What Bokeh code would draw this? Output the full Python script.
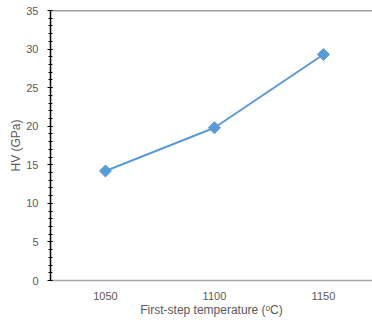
from bokeh.plotting import figure
from bokeh.models import Span, FixedTicker, Range1d
from bokeh.embed import file_html
from bokeh.resources import INLINE
import math

temps = [1050, 1100, 1150]
hv = [14.2, 19.8, 29.3]
y_ticks = [0, 5, 10, 15, 20, 25, 30, 35]

p = figure(width=372, height=320, output_backend="svg", toolbar_location=None,
           x_range=Range1d(1024.8, 1172.5), y_range=Range1d(0, 35),
           min_border_left=50, min_border_right=0, min_border_top=10, min_border_bottom=40)
p.outline_line_color = None
p.xgrid.grid_line_color = None
p.ygrid.grid_line_color = None
p.background_fill_color = "white"
p.border_fill_color = "white"

p.line(temps, hv, line_color="#5b9bd5", line_width=2)
p.scatter(temps, hv, marker="square", size=8.5, angle=math.pi / 4,
          fill_color="#5b9bd5", line_color="#5b9bd5")

p.add_layout(Span(location=35, dimension="width", line_color="#404040", line_width=1.5))

font = "Liberation Sans"
ya = p.yaxis[0]
ya.ticker = FixedTicker(ticks=y_ticks, minor_ticks=list(range(0, 36)))
ya.axis_line_color = "black"
ya.axis_line_width = 1.5
ya.major_tick_line_color = "black"
ya.minor_tick_line_color = "black"
ya.major_tick_out = 3
ya.major_tick_in = 2
ya.minor_tick_out = 2
ya.minor_tick_in = 2
ya.major_label_text_font = font
ya.major_label_text_font_size = "11px"
ya.major_label_text_color = "#595959"
ya.major_label_standoff = 9
ya.axis_label = "HV (GPa)"
ya.axis_label_text_font = font
ya.axis_label_text_font_size = "12px"
ya.axis_label_text_font_style = "normal"
ya.axis_label_text_color = "#595959"
ya.axis_label_standoff = 0

xa = p.xaxis[0]
xa.ticker = FixedTicker(ticks=temps)
xa.axis_line_color = "#a6a6a6"
xa.axis_line_width = 1.5
xa.major_tick_line_color = None
xa.minor_tick_line_color = None
xa.major_label_text_font = font
xa.major_label_text_font_size = "11px"
xa.major_label_text_color = "#595959"
xa.major_label_standoff = 5
xa.axis_label = "First-step temperature (ᵒC)"
xa.axis_label_text_font = font
xa.axis_label_text_font_size = "12px"
xa.axis_label_text_font_style = "normal"
xa.axis_label_text_color = "#595959"
xa.axis_label_standoff = 0

open("out.html", "w").write(file_html(p, INLINE))
